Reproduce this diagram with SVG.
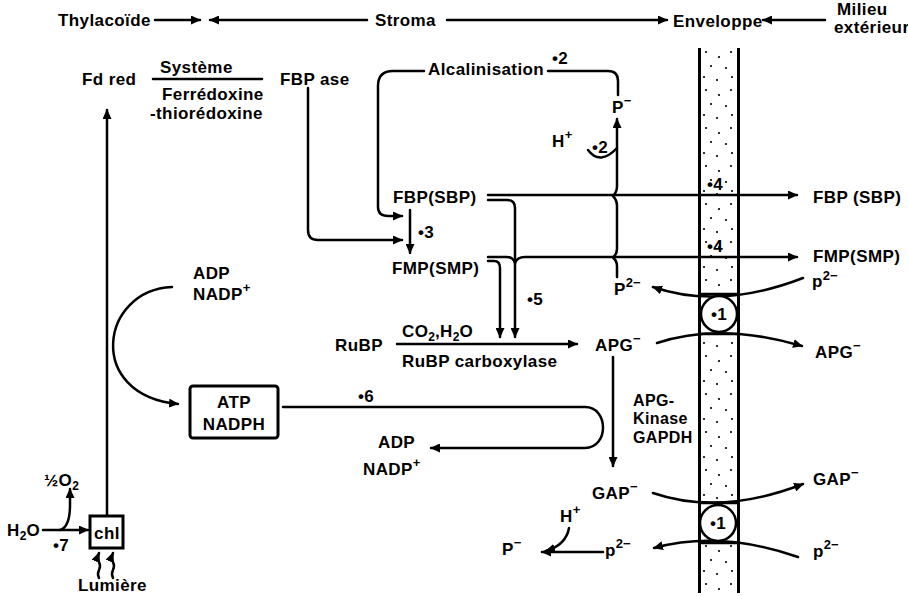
<svg xmlns="http://www.w3.org/2000/svg" width="908" height="596" viewBox="0 0 908 596">
<style>
text{font-family:"Liberation Sans",Arial,sans-serif;font-weight:bold;font-size:17px;letter-spacing:0.4px;fill:#000}
.sm{font-size:16px}
.sup{font-size:13px;letter-spacing:0}
.sub{font-size:12px;letter-spacing:0}
.ln{fill:none;stroke:#000;stroke-width:2.5;stroke-linecap:round;stroke-linejoin:round}
.arr{marker-end:url(#ah)}
</style>
<defs>
<marker id="ah" markerUnits="userSpaceOnUse" markerWidth="11" markerHeight="9" refX="9" refY="4.5" orient="auto">
<path d="M0,0 L10,4.5 L0,9 Z" fill="#000"/>
</marker>
<pattern id="dots" patternUnits="userSpaceOnUse" x="700" y="48" width="38" height="38">
<circle cx="6" cy="4" r="1.1"/><circle cx="19" cy="9" r="1.1"/><circle cx="31" cy="4" r="1.1"/>
<circle cx="11" cy="18" r="1.1"/><circle cx="26" cy="20" r="1.1"/><circle cx="4" cy="29" r="1.1"/>
<circle cx="17" cy="32" r="1.1"/><circle cx="32" cy="29" r="1.1"/>
</pattern>
</defs>
<rect width="908" height="596" fill="#fff"/>

<g id="enveloppe-membrane">
<rect x="700" y="48" width="38" height="545" fill="url(#dots)"/>
<rect x="700" y="294" width="38" height="40" fill="#fff"/>
<rect x="700" y="503" width="38" height="40" fill="#fff"/>
<line x1="699.5" y1="48" x2="699.5" y2="593" stroke="#000" stroke-width="3"/>
<line x1="738.5" y1="48" x2="738.5" y2="593" stroke="#000" stroke-width="3"/>
<line x1="698" y1="294" x2="740" y2="294" stroke="#000" stroke-width="2.5"/>
<line x1="698" y1="334" x2="740" y2="334" stroke="#000" stroke-width="2.5"/>
<line x1="698" y1="503" x2="740" y2="503" stroke="#000" stroke-width="2.5"/>
<line x1="698" y1="543" x2="740" y2="543" stroke="#000" stroke-width="2.5"/>
</g>

<g id="connectors">
<path class="ln arr" d="M155,20 L200,20"/>
<path class="ln arr" d="M367,20 L210,20"/>
<path class="ln arr" d="M447,20 L667,20"/>
<path class="ln arr" d="M825,20 L763,20"/>
<path class="ln arr" d="M107,515 L107,110"/>
<path class="ln" d="M153,79 L262,79"/>
<path class="ln arr" d="M308,88 L308,230 Q308,240 318,240 L402,240"/>
<path class="ln arr" d="M424,71 L393,71 Q378,71 378,86 L378,207 Q378,216 388,216 L402,216"/>
<path class="ln" d="M548,71 L608,71 Q618,71 618,81 L618,95"/>
<path class="ln arr" d="M617,277 L617,266 Q617,261 613,257.5 Q617,254 617,249 L617,206 Q617,200 613,196 Q617,192 617,186 L617,119"/>
<path class="ln" d="M588,150 Q600,166 617,148"/>
<path class="ln arr" d="M410,210 L410,253"/>
<path class="ln arr" d="M488,195 L797,195"/>
<path class="ln arr" d="M488,200 L507,200 Q515,200 515,208 L515,337"/>
<path class="ln arr" d="M488,257 L507,257 Q513,257 515,263 Q517,257 525,257 L797,257"/>
<path class="ln arr" d="M488,261 L494,261 Q500,261 500,268 L500,337"/>
<path class="ln arr" d="M397,344 L577,344"/>
<path class="ln arr" d="M613,357 L613,466"/>
<path class="ln arr" d="M172,287 C100,290 85,395 178,404"/>
<path class="ln arr" d="M283,407 L585,407 C609,407 609,448 585,448 L431,448"/>
<path class="ln arr" d="M803,278 Q720,310 653,287"/>
<path class="ln arr" d="M657,343 Q720,322 802,346"/>
<path class="ln arr" d="M653,493 Q720,516 803,484"/>
<path class="ln arr" d="M798,557 Q720,530 654,548"/>
<path class="ln arr" d="M603,552 L542,552"/>
<path class="ln arr" d="M569,528 Q566,545 546,551"/>
<path class="ln arr" d="M43,530 L88,530"/>
<path class="ln arr" d="M60,530 Q70,527 70,505 L70,489"/>
<path class="ln arr" d="M99,578 q-2,-4 0,-8 q2,-4 0,-8 q-2,-4 0,-9"/>
<path class="ln arr" d="M113,578 q-2,-4 0,-8 q2,-4 0,-8 q-2,-4 0,-9"/>
</g>

<g id="header">
<text x="58" y="26">Thylacoïde</text>
<text x="375" y="26" letter-spacing="1">Stroma</text>
<text x="673" y="27">Enveloppe</text>
<text x="837" y="15" font-size="15" letter-spacing="0.8">Milieu</text>
<text x="834" y="33" font-size="15" letter-spacing="0.9">extérieur</text>
</g>

<g id="fd-red"><text x="82" y="85" letter-spacing="1">Fd red</text></g>
<g id="systeme">
<text x="160" y="73">Système</text>
<text x="162" y="100" font-size="15" letter-spacing="1.5">Ferrédoxine</text>
<text x="150" y="119" font-size="15" letter-spacing="1.4">-thiorédoxine</text>
</g>
<g id="fbpase"><text x="280" y="85">FBP ase</text></g>
<g id="alcalinisation">
<text x="428" y="75">Alcalinisation</text>
<text x="552" y="64">•2</text>
</g>
<g id="p-top"><text x="612" y="113">P<tspan class="sup" dy="-8">−</tspan></text></g>
<g id="h-top">
<text x="552" y="147">H<tspan class="sup" dy="-8">+</tspan></text>
<text x="592" y="153">•2</text>
</g>
<g id="fbp-sbp"><text x="393" y="203">FBP(SBP)</text></g>
<g id="step3"><text x="418" y="238">•3</text></g>
<g id="fmp-smp"><text x="392" y="274">FMP(SMP)</text></g>
<g id="step5"><text x="527" y="305">•5</text></g>
<g id="p2-mid"><text x="614" y="295">P<tspan class="sup" dy="-8">2−</tspan></text></g>
<g id="step4a"><text x="707" y="190">•4</text></g>
<g id="step4b"><text x="707" y="252">•4</text></g>
<g id="transporter1">
<circle cx="719" cy="314" r="18" fill="#fff" stroke="#000" stroke-width="2.5"/>
<text x="719" y="320" text-anchor="middle" font-size="15">•1</text>
</g>
<g id="transporter2">
<circle cx="718" cy="523" r="18" fill="#fff" stroke="#000" stroke-width="2.5"/>
<text x="718" y="529" text-anchor="middle" font-size="15">•1</text>
</g>
<g id="fbp-out"><text x="813" y="203">FBP (SBP)</text></g>
<g id="fmp-out"><text x="813" y="262">FMP(SMP)</text></g>
<g id="p2-out-top"><text x="812" y="287">p<tspan class="sup" dy="-7">2−</tspan></text></g>
<g id="adp-top">
<text x="193" y="279">ADP</text>
<text x="193" y="300">NADP<tspan class="sup" dy="-8">+</tspan></text>
</g>
<g id="atp-nadph">
<rect x="190" y="386" width="88" height="52" rx="3" fill="#fff" stroke="#000" stroke-width="3"/>
<text x="234" y="408" text-anchor="middle">ATP</text>
<text x="234" y="430" text-anchor="middle">NADPH</text>
</g>
<g id="step6"><text x="358" y="402">•6</text></g>
<g id="rubp"><text x="335" y="351">RuBP</text></g>
<g id="carboxylase">
<text x="402" y="337">CO<tspan class="sub" dy="4">2</tspan><tspan dy="-4">,H</tspan><tspan class="sub" dy="4">2</tspan><tspan dy="-4">O</tspan></text>
<text x="402" y="367" letter-spacing="0.9">RuBP carboxylase</text>
</g>
<g id="apg-in"><text x="595" y="351">APG<tspan class="sup" dy="-8">−</tspan></text></g>
<g id="apg-out"><text x="815" y="358">APG<tspan class="sup" dy="-8">−</tspan></text></g>
<g id="kinase">
<text class="sm" x="633" y="406">APG-</text>
<text class="sm" x="633" y="424">Kinase</text>
<text class="sm" x="633" y="443">GAPDH</text>
</g>
<g id="adp-bottom">
<text x="378" y="448">ADP</text>
<text x="363" y="475">NADP<tspan class="sup" dy="-8">+</tspan></text>
</g>
<g id="gap-in"><text x="592" y="499">GAP<tspan class="sup" dy="-8">−</tspan></text></g>
<g id="gap-out"><text x="813" y="485">GAP<tspan class="sup" dy="-8">−</tspan></text></g>
<g id="h-bottom"><text x="560" y="522">H<tspan class="sup" dy="-8">+</tspan></text></g>
<g id="p-bottom"><text x="502" y="555">P<tspan class="sup" dy="-8">−</tspan></text></g>
<g id="p2-bottom-in"><text x="605" y="556">p<tspan class="sup" dy="-8">2−</tspan></text></g>
<g id="p2-bottom-out"><text x="813" y="557">p<tspan class="sup" dy="-8">2−</tspan></text></g>
<g id="chl">
<rect x="90" y="516" width="33" height="32" fill="#fff" stroke="#000" stroke-width="3"/>
<text x="107" y="539" text-anchor="middle" font-size="15" letter-spacing="0">chl</text>
</g>
<g id="water">
<text x="7" y="536">H<tspan class="sub" dy="4">2</tspan><tspan dy="-4">O</tspan></text>
<text x="44" y="486" font-size="18">½O<tspan class="sub" dy="4">2</tspan></text>
<text x="53" y="551">•7</text>
</g>
<g id="lumiere"><text x="78" y="591">Lumière</text></g>
</svg>
